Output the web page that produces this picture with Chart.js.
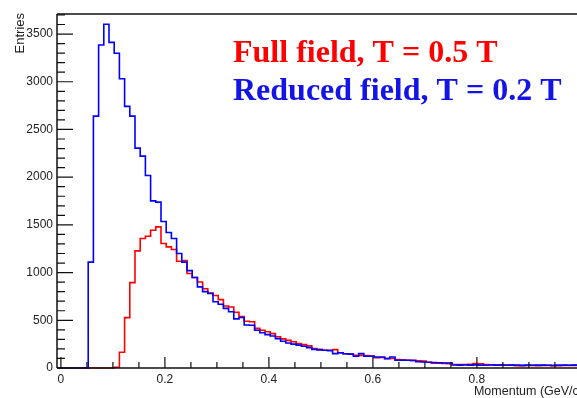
<!DOCTYPE html>
<html lang="en">
<head>
<meta charset="UTF-8">
<title>Momentum distribution</title>
<script src="https://cdn.jsdelivr.net/npm/chart.js"></script>
<style>
    html, body { margin: 0; padding: 0; background: #fff; overflow: hidden; }
    #wrap { width: 600px; height: 398px; position: relative; }
</style>
</head>
<body>
<div id="wrap"><canvas id="histo"></canvas></div>
<script>
// histogram binning (100 bins of 0.01 GeV/c)
const binLow = -0.0075;
const binWidth = 0.01;

// Reduced field, T = 0.2 T
const reducedCounts = [
    0, 0, 0, 0, 0, 0, 1110, 2640, 3385, 3602,
    3413, 3298, 3031, 2742, 2640, 2304, 2220, 2018, 1752, 1738,
    1535, 1420, 1357, 1200, 1110, 1020, 948, 850, 800, 780,
    695, 668, 625, 590, 515, 530, 450, 448, 395, 370,
    350, 335, 308, 280, 262, 250, 240, 228, 214, 195,
    190, 186, 182, 151, 160, 150, 145, 123, 151, 123,
    123, 115, 115, 98, 115, 81, 81, 81, 78, 65,
    63, 60, 58, 55, 52, 52, 32, 30, 31, 30,
    33, 30, 29, 31, 30, 30, 29, 30, 31, 28,
    30, 29, 30, 30, 29, 28, 30, 30, 29, 30
];

// Full field, T = 0.5 T
const fullCounts = [
    0, 0, 0, 0, 0, 0, 0, 0, 0, 0,
    0, 8, 165, 528, 895, 1227, 1357, 1381, 1444, 1479,
    1305, 1269, 1242, 1119, 1127, 990, 948, 902, 830, 785,
    760, 717, 650, 640, 585, 540, 490, 485, 415, 395,
    380, 360, 328, 305, 290, 275, 255, 245, 232, 205,
    195, 186, 186, 193, 160, 150, 145, 132, 132, 130,
    125, 108, 110, 100, 100, 88, 85, 82, 80, 75,
    72, 60, 50, 50, 48, 46, 36, 36, 36, 40,
    46, 44, 36, 34, 32, 30, 30, 30, 25, 25,
    26, 28, 24, 28, 28, 24, 24, 26, 28, 28
];

const xMajorLabels = [0, 0.2, 0.4, 0.6, 0.8];
const xMinorStep = 0.05;
const yMajorStep = 500;
const yMinorStep = 100;
const yMax = 3710;

const legendLines = [
    { text: 'Full field, T = 0.5 T', color: '#ff0000' },
    { text: 'Reduced field, T = 0.2 T', color: '#1414e6' }
];

// one point per bin low edge, plus the closing upper edge
function toSteps(counts) {
    const pts = counts.map((c, i) => ({ x: binLow + i * binWidth, y: c }));
    pts.push({ x: binLow + counts.length * binWidth, y: counts[counts.length - 1] });
    return pts;
}

const rootFrame = {
    id: 'rootFrame',
    afterDatasetsDraw(chart) {
        const { ctx, chartArea: a, scales } = chart;
        ctx.save();
        ctx.strokeStyle = '#111';
        ctx.lineWidth = 1.5;
        ctx.beginPath();
        ctx.moveTo(a.left, a.top); ctx.lineTo(a.right, a.top);
        ctx.moveTo(a.left, a.top); ctx.lineTo(a.left, a.bottom);
        ctx.moveTo(a.left, a.bottom); ctx.lineTo(a.right, a.bottom);
        ctx.stroke();

        // inner ticks, ROOT style
        ctx.lineWidth = 1.2;
        ctx.beginPath();
        scales.y.ticks.forEach(t => {
            const py = scales.y.getPixelForValue(t.value);
            const len = t.value % yMajorStep === 0 ? 16 : 8;
            ctx.moveTo(a.left, py); ctx.lineTo(a.left + len, py);
        });
        scales.x.ticks.forEach(t => {
            const px = scales.x.getPixelForValue(t.value);
            const major = xMajorLabels.some(v => Math.abs(v - t.value) < 1e-6);
            const len = major ? 11 : 6;
            ctx.moveTo(px, a.bottom); ctx.lineTo(px, a.bottom - len);
        });
        ctx.stroke();

        // axis titles
        ctx.fillStyle = '#222';
        ctx.font = '12.5px "Liberation Sans", Arial, sans-serif';
        ctx.textAlign = 'right';
        ctx.textBaseline = 'middle';
        ctx.fillText('Momentum (GeV/c)', 583, 392);

        ctx.save();
        ctx.translate(20, 13);
        ctx.rotate(-Math.PI / 2);
        ctx.font = '13px "Liberation Sans", Arial, sans-serif';
        ctx.textAlign = 'right';
        ctx.fillText('Entries', 0, 0);
        ctx.restore();

        // legend text
        ctx.font = 'bold 32px "Liberation Serif", "Times New Roman", serif';
        ctx.textAlign = 'left';
        ctx.textBaseline = 'alphabetic';
        legendLines.forEach((l, i) => {
            ctx.fillStyle = l.color;
            ctx.fillText(l.text, 233, 62 + i * 38);
        });
        ctx.restore();
    }
};

new Chart(document.getElementById('histo'), {
    type: 'line',
    data: {
        datasets: [
            {
                label: 'Reduced field, T = 0.2 T',
                data: toSteps(reducedCounts),
                borderColor: '#0000ff',
                borderWidth: 1.6,
                stepped: 'before',
                pointRadius: 0,
                fill: false,
                clip: 4
            },
            {
                label: 'Full field, T = 0.5 T',
                data: toSteps(fullCounts),
                borderColor: '#ff0000',
                borderWidth: 1.6,
                stepped: 'before',
                pointRadius: 0,
                fill: false,
                clip: 4
            }
        ]
    },
    options: {
        responsive: true,
        maintainAspectRatio: false,
        animation: false,
        layout: { padding: { top: 14, left: 0, right: 23, bottom: 0 } },
        plugins: { legend: { display: false }, tooltip: { enabled: false } },
        scales: {
            x: {
                type: 'linear',
                min: binLow,
                max: binLow + reducedCounts.length * binWidth,
                grid: { display: false, drawTicks: false },
                border: { display: false },
                afterBuildTicks(scale) {
                    const ticks = [];
                    for (let v = 0; v < scale.max; v += xMinorStep) ticks.push({ value: Math.round(v * 100) / 100 });
                    scale.ticks = ticks;
                },
                afterFit(scale) { scale.height = 30; },
                ticks: {
                    autoSkip: false,
                    maxRotation: 0,
                    padding: 4,
                    color: '#222',
                    font: { family: '"Liberation Sans", Arial, sans-serif', size: 12 },
                    callback: v => xMajorLabels.some(m => Math.abs(m - v) < 1e-6) ? String(v) : ''
                }
            },
            y: {
                min: 0,
                max: yMax,
                grid: { display: false, drawTicks: false },
                border: { display: false },
                afterBuildTicks(scale) {
                    const ticks = [];
                    for (let v = 0; v <= scale.max; v += yMinorStep) ticks.push({ value: v });
                    scale.ticks = ticks;
                },
                afterFit(scale) { scale.width = 57; },
                ticks: {
                    autoSkip: false,
                    padding: 4,
                    color: '#222',
                    font: { family: '"Liberation Sans", Arial, sans-serif', size: 12 },
                    callback: v => v % yMajorStep === 0 ? String(v) : ''
                }
            }
        }
    },
    plugins: [rootFrame]
});
</script>
</body>
</html>
